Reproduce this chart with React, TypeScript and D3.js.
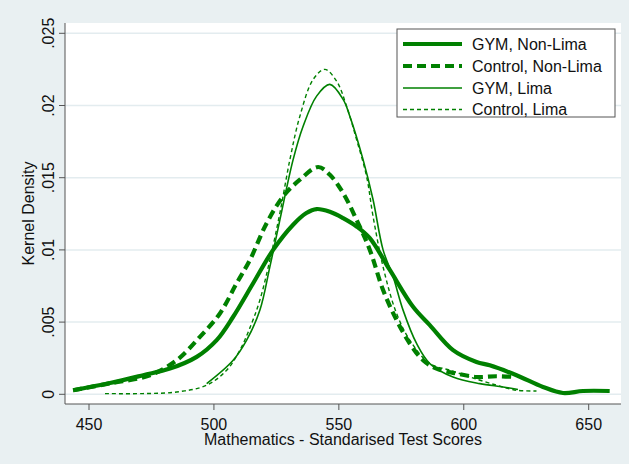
import React from "react";
import * as d3 from "d3";

const xTicks = [450, 500, 550, 600, 650];
const yTicks = [0, 0.005, 0.01, 0.015, 0.02, 0.025];
const yTickLabels = ["0", ".005", ".01", ".015", ".02", ".025"];

const seriesNames = ["GYM, Non-Lima", "Control, Non-Lima", "GYM, Lima", "Control, Lima"];

const gymNonLima: [number, number][] = [
  [443.7, 0.00028], [458.4, 0.00078], [471.7, 0.00132], [482.4, 0.00178], [493.1, 0.00259],
  [501.1, 0.00375], [507.7, 0.00537], [515.7, 0.00769], [523.7, 0.0100], [531.7, 0.01174],
  [537.0, 0.01255], [541.1, 0.01283], [546.4, 0.01264], [551.7, 0.0122], [557.1, 0.01162],
  [562.4, 0.01081], [570.4, 0.00861], [579.7, 0.00606], [586.4, 0.00479], [595.7, 0.00306],
  [605.1, 0.00224], [610.4, 0.00201], [621.1, 0.00132], [631.7, 0.00051], [639.7, 0.00009],
  [647.7, 0.00023], [658.4, 0.00023],
];

const controlNonLima: [number, number][] = [
  [443.6, 0.00028], [458.4, 0.00076], [474.4, 0.00132], [485.1, 0.00236], [494.4, 0.00398],
  [502.4, 0.0056], [509.1, 0.00769], [514.4, 0.0093], [521.1, 0.01185], [527.7, 0.0137],
  [534.4, 0.01486], [541.7, 0.01574], [546.4, 0.0152], [551.7, 0.01394], [557.1, 0.01208],
  [562.4, 0.0100], [567.7, 0.00722], [573.1, 0.00514], [578.4, 0.00352], [583.7, 0.00236],
  [589.1, 0.00178], [597.1, 0.00144], [605.1, 0.0012], [613.1, 0.00125], [620.4, 0.0012],
];

const gymLima: [number, number][] = [
  [497.1, 0.00074], [507.7, 0.00236], [513.1, 0.00375], [518.4, 0.00583], [522.4, 0.00884],
  [526.4, 0.01208], [531.7, 0.01625], [535.7, 0.01856], [541.1, 0.02065], [546.4, 0.02146],
  [551.7, 0.02042], [554.4, 0.01926], [559.7, 0.01625], [563.7, 0.01347], [567.7, 0.0100],
  [571.7, 0.00815], [575.7, 0.00583], [581.1, 0.00352], [586.4, 0.00213], [595.7, 0.0012],
  [606.4, 0.00074], [615.7, 0.00051], [621.7, 0.00033],
];

const controlLima: [number, number][] = [
  [456.4, 0.00005], [471.7, 0.00005], [485.1, 0.00016], [497.1, 0.00063], [505.1, 0.00167],
  [510.4, 0.00306], [515.1, 0.00491], [518.4, 0.00653], [522.4, 0.0093], [526.4, 0.01255],
  [530.4, 0.01625], [534.4, 0.01926], [539.7, 0.0218], [544.4, 0.0225], [549.1, 0.02169],
  [553.1, 0.01995], [557.1, 0.01764], [561.1, 0.01509], [563.7, 0.01231], [568.0, 0.00861],
  [573.1, 0.0056], [578.4, 0.00375], [586.4, 0.00213], [594.4, 0.00167], [602.4, 0.0012],
  [613.1, 0.00063], [621.1, 0.00028], [629.1, 0.00023],
];

const seriesData = [gymNonLima, controlNonLima, gymLima, controlLima];

const W = 629;
const H = 464;
const plot = { left: 65, right: 621, top: 23, bottom: 404 };
const GREEN = "#008000";
const BG = "#e9f0f2";
const GRID = "#e3ecef";
const AXIS = "#555555";
const FONT = "'Liberation Sans', Arial, sans-serif";

const styles = [
  { width: 4.2, dash: "none" },
  { width: 4.2, dash: "9,5" },
  { width: 1.6, dash: "none" },
  { width: 1.4, dash: "4,3" },
];

export default function App() {
  const x = d3.scaleLinear().domain([450, 650]).range([89, 588.7]);
  const y = d3.scaleLinear().domain([0, 0.025]).range([394.3, 33.3]);
  const line = d3
    .line<[number, number]>()
    .x((d) => x(d[0]))
    .y((d) => y(d[1]))
    .curve(d3.curveCatmullRom.alpha(0.5));

  const legend = { x: 397, y: 29, w: 218, h: 88 };
  const rowY = [44, 66, 88, 109.5];

  return (
    <svg
      width={W}
      height={H}
      style={{ position: "absolute", left: 0, top: 0, display: "block" }}
      fontFamily={FONT}
    >
      <rect x={0} y={0} width={W} height={H} fill={BG} />
      <rect
        x={plot.left}
        y={plot.top}
        width={plot.right - plot.left}
        height={plot.bottom - plot.top}
        fill="#ffffff"
      />
      {yTicks.map((t) => (
        <line
          key={"g" + t}
          x1={plot.left}
          x2={plot.right}
          y1={y(t)}
          y2={y(t)}
          stroke={GRID}
          strokeWidth={1.5}
        />
      ))}
      {seriesData.map((s, i) => (
        <path
          key={seriesNames[i]}
          d={line(s) || ""}
          fill="none"
          stroke={GREEN}
          strokeWidth={styles[i].width}
          strokeDasharray={styles[i].dash}
          strokeLinejoin="round"
        />
      ))}
      {/* axes */}
      <line x1={plot.left} x2={plot.left} y1={plot.top} y2={plot.bottom} stroke={AXIS} strokeWidth={1} />
      <line x1={plot.left} x2={plot.right} y1={plot.bottom} y2={plot.bottom} stroke={AXIS} strokeWidth={1} />
      {yTicks.map((t, i) => (
        <g key={"yt" + t}>
          <line x1={plot.left - 6} x2={plot.left} y1={y(t)} y2={y(t)} stroke={AXIS} strokeWidth={1} />
          <text
            transform={`translate(54, ${y(t)}) rotate(-90)`}
            textAnchor="middle"
            fontSize={16}
            fill="#111"
          >
            {yTickLabels[i]}
          </text>
        </g>
      ))}
      {xTicks.map((t) => (
        <g key={"xt" + t}>
          <line x1={x(t)} x2={x(t)} y1={plot.bottom} y2={plot.bottom + 6} stroke={AXIS} strokeWidth={1} />
          <text x={x(t)} y={429.5} textAnchor="middle" fontSize={16} fill="#111">
            {t}
          </text>
        </g>
      ))}
      <text
        x={(plot.left + plot.right) / 2}
        y={445}
        textAnchor="middle"
        fontSize={16}
        fill="#111"
      >
        Mathematics - Standarised Test Scores
      </text>
      <text
        transform={`translate(34, ${(plot.top + plot.bottom) / 2}) rotate(-90)`}
        textAnchor="middle"
        fontSize={16}
        fill="#111"
      >
        Kernel Density
      </text>
      {/* legend */}
      <rect
        x={legend.x}
        y={legend.y}
        width={legend.w}
        height={legend.h}
        fill="#ffffff"
        stroke={AXIS}
        strokeWidth={1}
      />
      {seriesNames.map((n, i) => (
        <g key={"lg" + n}>
          <line
            x1={403}
            x2={462}
            y1={rowY[i]}
            y2={rowY[i]}
            stroke={GREEN}
            strokeWidth={styles[i].width}
            strokeDasharray={styles[i].dash}
          />
          <text x={472} y={rowY[i] + 5.7} fontSize={16} fill="#111">
            {n}
          </text>
        </g>
      ))}
    </svg>
  );
}
